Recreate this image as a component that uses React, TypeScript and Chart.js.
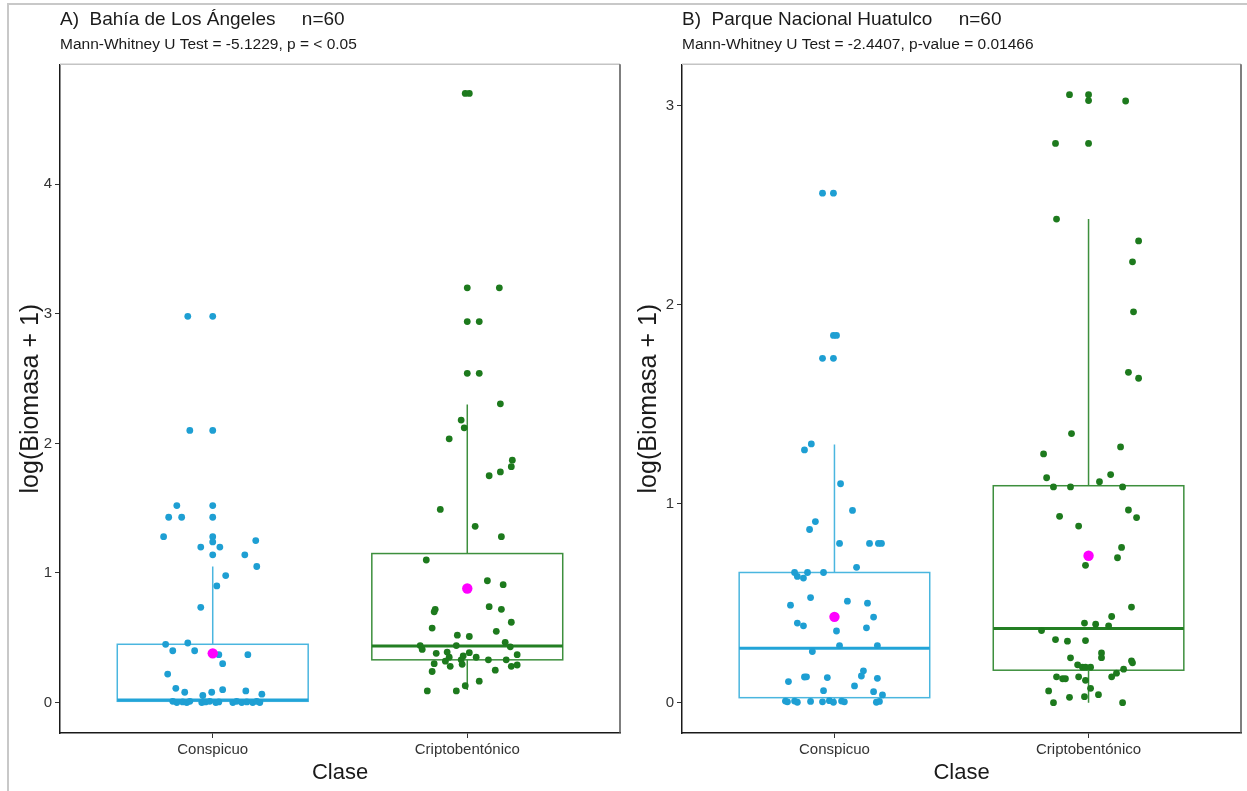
import React, { useEffect, useRef } from "react";
import { Chart, registerables } from "chart.js";

Chart.register(...registerables);

// ---------- DATA ----------
const categories = ["Conspicuo", "Criptobentónico"];

const yTicksA = [0, 1, 2, 3, 4];
const yTicksB = [0, 1, 2, 3];

// Panel A – Bahía de Los Ángeles
const aConspY = [2.98, 2.98, 2.10, 2.10, 1.52, 1.52, 1.43, 1.43, 1.43, 1.28, 1.28, 1.24, 1.20, 1.20, 1.14, 1.25, 1.14, 1.05, 0.98, 0.90, 0.735, 0.45, 0.46, 0.40, 0.40, 0.37, 0.37, 0.30, 0.22, 0.11, 0.08, 0.08, 0.10, 0.09, 0.065, 0.055, 0.01, 0.0, 0.005, 0.0, 0.01, 0.0, 0.005, 0.01, 0.0, 0.005, 0.0, 0.01, 0.0, 0.005, 0.0, 0.01, 0.0];
const aConspJitter = [-0.098, 0, -0.090, 0, -0.141, 0, -0.173, -0.122, 0, -0.193, 0, 0, -0.047, 0.028, 0, 0.169, 0.126, 0.173, 0.051, 0.016, -0.047, -0.185, -0.098, -0.157, -0.071, 0.024, 0.138, 0.039, -0.177, -0.145, -0.110, -0.004, 0.039, 0.130, 0.193, -0.039, -0.157, -0.141, -0.118, -0.102, -0.090, -0.043, -0.028, -0.012, 0.012, 0.024, 0.079, 0.094, 0.114, 0.134, 0.157, 0.173, 0.185];
const aCriptY = [4.70, 4.70, 3.20, 3.20, 2.94, 2.94, 2.54, 2.54, 2.305, 2.18, 2.12, 2.035, 1.87, 1.82, 1.78, 1.75, 1.49, 1.36, 1.28, 1.10, 0.94, 0.91, 0.72, 0.70, 0.74, 0.72, 0.575, 0.62, 0.55, 0.52, 0.51, 0.44, 0.41, 0.44, 0.465, 0.43, 0.38, 0.39, 0.36, 0.385, 0.35, 0.32, 0.33, 0.35, 0.33, 0.33, 0.37, 0.30, 0.28, 0.295, 0.28, 0.29, 0.24, 0.25, 0.165, 0.13, 0.09, 0.09];
const aCriptJitter = [-0.008, 0.008, 0, 0.126, 0, 0.047, 0, 0.047, 0.130, -0.024, -0.012, -0.071, 0.177, 0.173, 0.130, 0.086, -0.106, 0.031, 0.134, -0.161, 0.079, 0.141, -0.126, -0.130, 0.086, 0.134, -0.138, 0.173, 0.114, -0.039, 0.008, -0.185, -0.177, -0.043, 0.149, 0.169, -0.122, -0.079, -0.016, 0.008, -0.071, -0.086, -0.024, 0.035, 0.083, 0.153, 0.196, -0.130, -0.067, -0.020, 0.173, 0.196, -0.138, 0.110, 0.047, -0.008, -0.157, -0.043];
// [lower whisker, Q1, median, Q3, upper whisker]
const aBoxConsp = [0, 0.01, 0.02, 0.45, 1.05];
const aBoxCript = [0.097, 0.33, 0.436, 1.15, 2.30];
const aMeans = [0.38, 0.88];

// Panel B – Parque Nacional Huatulco
const bConspY = [2.56, 2.56, 1.845, 1.845, 1.73, 1.73, 1.30, 1.27, 1.10, 0.966, 0.91, 0.87, 0.80, 0.80, 0.80, 0.80, 0.68, 0.654, 0.634, 0.626, 0.654, 0.654, 0.528, 0.49, 0.51, 0.50, 0.43, 0.40, 0.386, 0.36, 0.376, 0.287, 0.287, 0.257, 0.16, 0.134, 0.129, 0.13, 0.126, 0.122, 0.106, 0.084, 0.06, 0.055, 0.039, 0.008, 0.004, 0.008, 0.002, 0.006, 0.004, 0.01, 0.002, 0.008, 0.004, 0.002, 0.006];
const bConspJitter = [-0.047, -0.004, -0.004, 0.008, -0.047, -0.004, -0.091, -0.118, 0.024, 0.071, -0.075, -0.098, 0.020, 0.138, 0.173, 0.185, 0.087, -0.157, -0.146, -0.122, -0.106, -0.043, -0.094, -0.173, 0.051, 0.130, 0.154, -0.146, -0.122, 0.008, 0.126, 0.020, 0.169, -0.087, 0.114, 0.106, -0.118, -0.110, -0.028, 0.169, -0.181, 0.079, -0.043, 0.154, 0.189, -0.193, -0.185, -0.157, -0.146, -0.094, -0.047, -0.020, -0.004, 0.028, 0.039, 0.165, 0.177];
const bCriptY = [3.055, 3.055, 3.025, 3.023, 2.81, 2.81, 2.43, 2.32, 2.215, 1.964, 1.66, 1.63, 1.352, 1.285, 1.25, 1.13, 1.146, 1.11, 1.084, 1.084, 1.084, 0.968, 0.93, 0.936, 0.887, 0.78, 0.728, 0.69, 0.48, 0.433, 0.40, 0.394, 0.386, 0.362, 0.317, 0.309, 0.312, 0.25, 0.226, 0.225, 0.21, 0.20, 0.19, 0.178, 0.178, 0.178, 0.168, 0.148, 0.13, 0.13, 0.12, 0.12, 0.13, 0.112, 0.072, 0.059, 0.027, 0.03, 0.04, 0.0, 0.0];
const bCriptJitter = [-0.075, 0, 0, 0.146, -0.130, 0, -0.126, 0.197, 0.173, 0.177, 0.157, 0.197, -0.067, 0.126, -0.177, -0.165, 0.087, 0.043, -0.138, -0.071, 0.134, 0.157, 0.189, -0.114, -0.039, 0.130, 0.114, -0.012, 0.169, 0.091, -0.016, 0.028, 0.079, -0.185, -0.130, -0.083, -0.012, 0.051, 0.051, -0.071, 0.169, 0.173, -0.043, -0.024, -0.012, 0.008, 0.138, 0.110, 0.091, -0.126, -0.102, -0.091, -0.039, -0.012, 0.008, -0.157, -0.075, -0.016, 0.039, -0.138, 0.134];
const bBoxConsp = [0, 0.025, 0.273, 0.654, 1.297];
const bBoxCript = [0, 0.163, 0.372, 1.09, 2.43];
const bMeans = [0.431, 0.738];

// ---------- STYLE ----------
const FONT = "'Liberation Sans', Arial, Helvetica, sans-serif";
const CYAN_PT = "#1e9fd3";
const GREEN_PT = "#1d7a1d";
const BOX_STROKE = ["#4ab6df", "#3d8f3d"];
const MEDIAN_STROKE = ["#22a4d8", "#237f23"];
const MEAN_COLOR = "#ff00ff";

function toPoints(center: number, ys: number[], jit: number[]) {
  return ys.map((y, i) => ({ x: center + jit[i], y }));
}

const boxPlugin = {
  id: "boxplot",
  beforeDatasetsDraw(chart: any, _args: any, opts: any) {
    const { ctx, scales } = chart;
    const x = scales.x;
    const y = scales.y;
    opts.stats.forEach((s: number[], i: number) => {
      const c = i + 1;
      const cx = x.getPixelForValue(c);
      const xl = x.getPixelForValue(c - opts.width / 2);
      const xr = x.getPixelForValue(c + opts.width / 2);
      const [lo, q1, med, q3, hi] = s;
      ctx.save();
      ctx.strokeStyle = BOX_STROKE[i];
      ctx.lineWidth = 1.5;
      ctx.beginPath();
      ctx.moveTo(cx, y.getPixelForValue(q3));
      ctx.lineTo(cx, y.getPixelForValue(hi));
      ctx.moveTo(cx, y.getPixelForValue(q1));
      ctx.lineTo(cx, y.getPixelForValue(lo));
      ctx.stroke();
      ctx.strokeRect(xl, y.getPixelForValue(q3), xr - xl, y.getPixelForValue(q1) - y.getPixelForValue(q3));
      ctx.strokeStyle = MEDIAN_STROKE[i];
      ctx.lineWidth = 3;
      ctx.beginPath();
      ctx.moveTo(xl, y.getPixelForValue(med));
      ctx.lineTo(xr, y.getPixelForValue(med));
      ctx.stroke();
      ctx.restore();
    });
  },
  afterDraw(chart: any) {
    const { ctx, chartArea: a } = chart;
    ctx.save();
    ctx.strokeStyle = "#c4c4c4";
    ctx.lineWidth = 1.5;
    ctx.beginPath();
    ctx.moveTo(a.left, a.top);
    ctx.lineTo(a.right, a.top);
    ctx.stroke();
    ctx.strokeStyle = "#555555";
    ctx.beginPath();
    ctx.moveTo(a.right, a.top);
    ctx.lineTo(a.right, a.bottom);
    ctx.stroke();
    ctx.restore();
  },
};

type PanelProps = {
  left: number;
  width: number;
  padRight: number;
  yTitlePad: number;
  title: string;
  subtitle: string;
  yMin: number;
  yMax: number;
  yTicks: number[];
  consp: { x: number; y: number }[];
  cript: { x: number; y: number }[];
  boxes: number[][];
  means: number[];
};

function Panel(p: PanelProps) {
  const ref = useRef<HTMLCanvasElement>(null);
  useEffect(() => {
    const canvas = ref.current!;
    const chart = new Chart(canvas, {
      type: "scatter",
      data: {
        datasets: [
          {
            label: "Media",
            data: p.means.map((m, i) => ({ x: i + 1, y: m })),
            pointRadius: 5.2,
            pointBackgroundColor: MEAN_COLOR,
            pointBorderWidth: 0,
            borderColor: MEAN_COLOR,
          },
          {
            label: categories[0],
            data: p.consp,
            pointRadius: 3.4,
            pointBackgroundColor: CYAN_PT,
            pointBorderWidth: 0,
            borderColor: CYAN_PT,
          },
          {
            label: categories[1],
            data: p.cript,
            pointRadius: 3.4,
            pointBackgroundColor: GREEN_PT,
            pointBorderWidth: 0,
            borderColor: GREEN_PT,
          },
        ],
      },
      options: {
        animation: false,
        responsive: false,
        events: [],
        layout: { padding: { left: 0, right: p.padRight, top: 0, bottom: 0 } },
        plugins: {
          legend: { display: false },
          tooltip: { enabled: false },
          title: {
            display: true,
            text: p.title,
            align: "start",
            fullSize: false,
            color: "#1a1a1a",
            font: { family: FONT, size: 19, weight: "normal" },
            padding: { top: 8.6, bottom: 0 },
          },
          subtitle: {
            display: true,
            text: p.subtitle,
            align: "start",
            fullSize: false,
            color: "#1a1a1a",
            font: { family: FONT, size: 15.5, weight: "normal" },
            padding: { top: 4.3, bottom: 10 },
          },
          // @ts-ignore
          boxplot: { stats: p.boxes, width: 0.75 },
        } as any,
        scales: {
          x: {
            type: "linear",
            min: 0.4,
            max: 2.6,
            afterBuildTicks: (s: any) => {
              s.ticks = categories.map((_, i) => ({ value: i + 1 }));
            },
            afterFit: (s: any) => {
              s.height = 58;
            },
            ticks: {
              callback: (v: any) => categories[Number(v) - 1] ?? "",
              color: "#333333",
              font: { family: FONT, size: 15 },
              padding: 3,
              maxRotation: 0,
              autoSkip: false,
            },
            grid: { drawOnChartArea: false, drawTicks: true, tickLength: 5, color: "#333333" },
            border: { display: true, color: "#1a1a1a", width: 1.5 },
            title: {
              display: true,
              text: "Clase",
              color: "#1a1a1a",
              font: { family: FONT, size: 22 },
              padding: { top: 0, bottom: 5 },
            },
          },
          y: {
            type: "linear",
            min: p.yMin,
            max: p.yMax,
            afterBuildTicks: (s: any) => {
              s.ticks = p.yTicks.map((v) => ({ value: v }));
            },
            afterFit: (s: any) => {
              s.width = 60;
            },
            ticks: {
              color: "#333333",
              font: { family: FONT, size: 15 },
              padding: 3,
            },
            grid: { drawOnChartArea: false, drawTicks: true, tickLength: 5, color: "#333333" },
            border: { display: true, color: "#1a1a1a", width: 1.5 },
            title: {
              display: true,
              text: "log(Biomasa + 1)",
              color: "#1a1a1a",
              font: { family: FONT, size: 25 },
              padding: { top: p.yTitlePad, bottom: 0 },
            },
          },
        },
      },
      plugins: [boxPlugin],
    });
    return () => chart.destroy();
  }, []);
  return (
    <canvas
      ref={ref}
      width={p.width}
      height={791}
      style={{ position: "absolute", left: p.left, top: 0, width: p.width, height: 791 }}
    />
  );
}

export default function App() {
  return (
    <div
      style={{
        position: "fixed",
        left: 0,
        top: 0,
        width: 1247,
        height: 791,
        background: "#ffffff",
        overflow: "hidden",
      }}
    >
      <div
        style={{
          position: "absolute",
          left: 7,
          top: 3,
          width: 1240,
          height: 790,
          borderLeft: "2px solid #c8c8c8",
          borderTop: "2px solid #c8c8c8",
        }}
      />
      <Panel
        left={0}
        width={630}
        padRight={10}
        yTitlePad={16}
        title={"A)  Bahía de Los Ángeles     n=60"}
        subtitle={"Mann-Whitney U Test = -5.1229, p = < 0.05"}
        yMin={-0.2345}
        yMax={4.9245}
        yTicks={yTicksA}
        consp={toPoints(1, aConspY, aConspJitter)}
        cript={toPoints(2, aCriptY, aCriptJitter)}
        boxes={[aBoxConsp, aBoxCript]}
        means={aMeans}
      />
      <Panel
        left={622}
        width={625}
        padRight={6}
        yTitlePad={12}
        title={"B)  Parque Nacional Huatulco     n=60"}
        subtitle={"Mann-Whitney U Test = -2.4407, p-value = 0.01466"}
        yMin={-0.1525}
        yMax={3.2075}
        yTicks={yTicksB}
        consp={toPoints(1, bConspY, bConspJitter)}
        cript={toPoints(2, bCriptY, bCriptJitter)}
        boxes={[bBoxConsp, bBoxCript]}
        means={bMeans}
      />
    </div>
  );
}
